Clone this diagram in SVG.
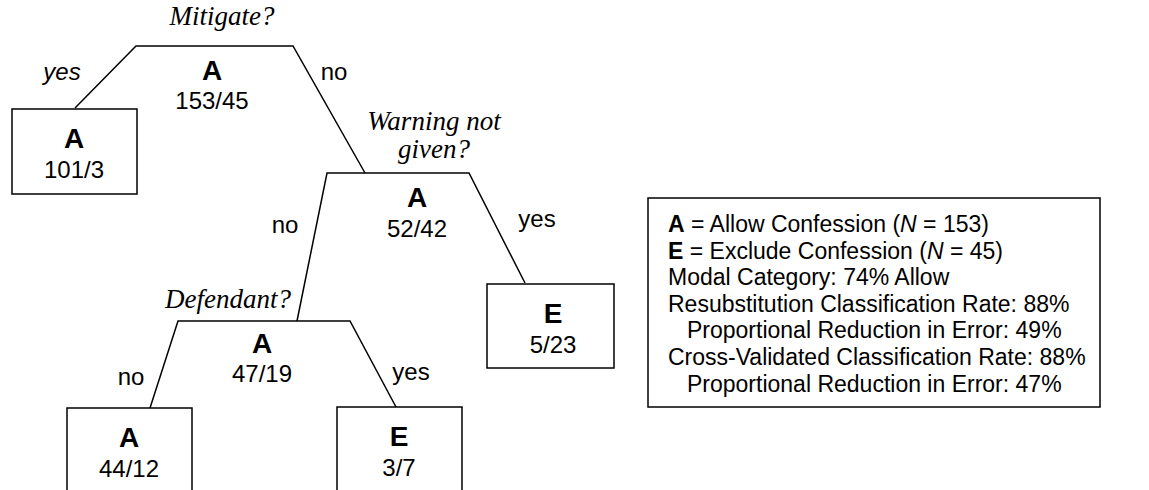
<svg xmlns="http://www.w3.org/2000/svg" width="1149" height="490" viewBox="0 0 1149 490">
  <style>
    .edge { fill: none; stroke: #000; stroke-width: 1.5; }
    .box { fill: #fff; stroke: #000; stroke-width: 1.5; }
    .q { font-family: "Liberation Serif", "Times New Roman", serif; font-style: italic; font-size: 27px; fill: #000; text-anchor: middle; }
    .cls { font-family: "Liberation Sans", Arial, sans-serif; font-weight: bold; font-size: 28px; fill: #000; text-anchor: middle; }
    .num { font-family: "Liberation Sans", Arial, sans-serif; font-size: 24px; fill: #000; text-anchor: middle; }
    .lbl { font-family: "Liberation Sans", Arial, sans-serif; font-size: 24px; fill: #000; text-anchor: middle; }
    .leg { font-family: "Liberation Sans", Arial, sans-serif; font-size: 23px; fill: #000; }
  </style>
  <rect width="1149" height="490" fill="#fff"/>

  <!-- branches of the tree -->
  <g id="connectors">
    <polyline class="edge" points="75,108 136,46 293,46 365,173"/>
    <polyline class="edge" points="297,321 327,173 469,173 525,283"/>
    <polyline class="edge" points="150,408 178,321 350,321 396,407"/>
  </g>

  <!-- split: Mitigate? -->
  <g id="node-mitigate">
    <text class="q" x="222" y="25">Mitigate?</text>
    <text class="cls" x="212" y="80">A</text>
    <text class="num" x="212" y="109">153/45</text>
    <text class="lbl" x="62" y="80" font-style="italic">yes</text>
    <text class="lbl" x="334" y="80">no</text>
  </g>

  <!-- leaf: A 101/3 -->
  <g id="leaf-a-101">
    <rect class="box" x="12" y="109" width="125" height="85"/>
    <text class="cls" x="74" y="148">A</text>
    <text class="num" x="74" y="178">101/3</text>
  </g>

  <!-- split: Warning not given? -->
  <g id="node-warning">
    <text class="q" x="434" y="130">Warning not</text>
    <text class="q" x="434" y="158">given?</text>
    <text class="cls" x="417" y="207">A</text>
    <text class="num" x="417" y="237">52/42</text>
    <text class="lbl" x="285" y="233">no</text>
    <text class="lbl" x="537" y="227">yes</text>
  </g>

  <!-- leaf: E 5/23 -->
  <g id="leaf-e-523">
    <rect class="box" x="487" y="284" width="127" height="84"/>
    <text class="cls" x="553" y="323">E</text>
    <text class="num" x="553" y="353">5/23</text>
  </g>

  <!-- split: Defendant? -->
  <g id="node-defendant">
    <text class="q" x="228" y="308">Defendant?</text>
    <text class="cls" x="262" y="353">A</text>
    <text class="num" x="262" y="382">47/19</text>
    <text class="lbl" x="131" y="385">no</text>
    <text class="lbl" x="411" y="380">yes</text>
  </g>

  <!-- leaf: A 44/12 -->
  <g id="leaf-a-4412">
    <rect class="box" x="67" y="408" width="125" height="100"/>
    <text class="cls" x="129" y="447">A</text>
    <text class="num" x="129" y="477">44/12</text>
  </g>

  <!-- leaf: E 3/7 -->
  <g id="leaf-e-37">
    <rect class="box" x="337" y="407" width="125" height="100"/>
    <text class="cls" x="399" y="446">E</text>
    <text class="num" x="399" y="476">3/7</text>
  </g>

  <!-- key and classification summary -->
  <g id="legend">
    <rect class="box" x="648" y="198" width="452" height="209"/>
    <text class="leg" x="668" y="232"><tspan font-weight="bold">A</tspan> = Allow Confession (<tspan font-style="italic">N</tspan> = 153)</text>
    <text class="leg" x="668" y="259"><tspan font-weight="bold">E</tspan> = Exclude Confession (<tspan font-style="italic">N</tspan> = 45)</text>
    <text class="leg" x="668" y="285">Modal Category: 74% Allow</text>
    <text class="leg" x="668" y="312">Resubstitution Classification Rate: 88%</text>
    <text class="leg" x="687" y="338">Proportional Reduction in Error: 49%</text>
    <text class="leg" x="668" y="365">Cross-Validated Classification Rate: 88%</text>
    <text class="leg" x="687" y="392">Proportional Reduction in Error: 47%</text>
  </g>
</svg>
